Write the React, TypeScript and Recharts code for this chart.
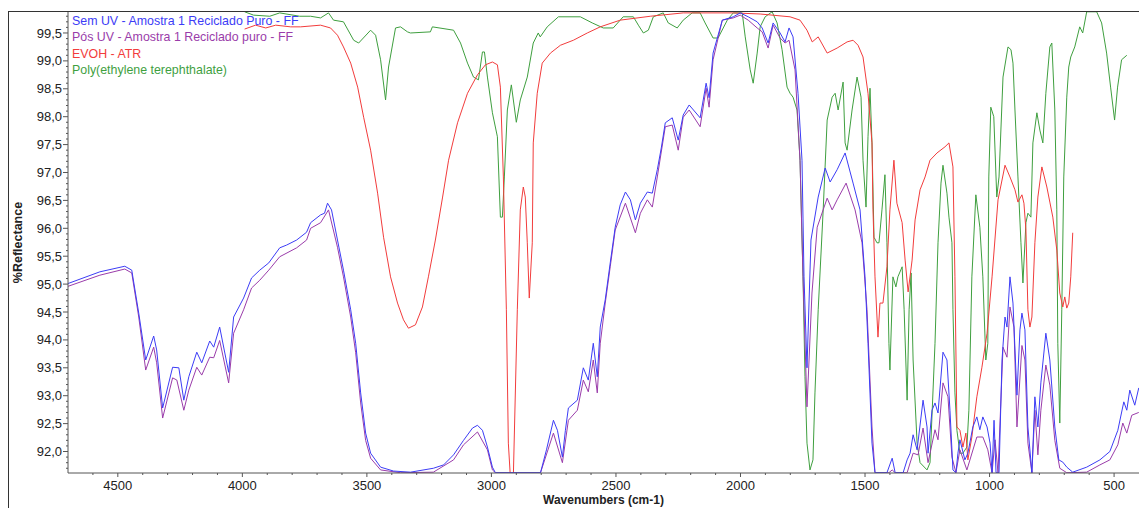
import React from 'react';
import { LineChart, Line, XAxis, YAxis, Legend } from 'recharts';

// [wavenumber cm-1, %Reflectance]
const semUV: [number, number][] = [
  [4700, 95.01], [4572, 95.22], [4472, 95.32], [4444, 95.25], [4416, 94.48], [4388, 93.64],
  [4356, 94.07], [4344, 93.82], [4320, 92.78], [4280, 93.51], [4255, 93.5], [4235, 92.92],
  [4215, 93.34], [4183, 93.78], [4163, 93.59], [4131, 93.98], [4115, 93.87], [4091, 94.23],
  [4055, 93.42], [4035, 94.41], [3995, 94.75], [3963, 95.11], [3930, 95.25], [3894, 95.38],
  [3850, 95.65], [3822, 95.7], [3782, 95.79], [3742, 95.93], [3726, 96.1], [3686, 96.24],
  [3670, 96.27], [3658, 96.45], [3642, 96.33], [3618, 95.79], [3594, 95.25], [3565, 94.54],
  [3545, 93.94], [3525, 93.05], [3505, 92.33], [3485, 91.97], [3445, 91.72], [3393, 91.65],
  [3325, 91.63], [3233, 91.7], [3192, 91.76], [3152, 91.94], [3112, 92.2], [3076, 92.42],
  [3056, 92.47], [3036, 92.38], [3016, 92.08], [2996, 91.72], [2984, 91.62], [2803, 91.62],
  [2779, 92.03], [2751, 92.56], [2735, 92.38], [2715, 91.9], [2703, 92.38], [2691, 92.78],
  [2655, 92.92], [2631, 93.5], [2611, 93.28], [2591, 93.94], [2575, 93.34], [2563, 94.23],
  [2543, 94.72], [2523, 95.38], [2503, 96.02], [2483, 96.42], [2462, 96.65], [2442, 96.51],
  [2422, 96.15], [2402, 96.45], [2374, 96.65], [2354, 96.63], [2334, 97.05], [2318, 97.44],
  [2302, 97.89], [2274, 97.98], [2250, 97.58], [2230, 98.03], [2206, 98.21], [2162, 97.98],
  [2138, 98.6], [2126, 98.34], [2110, 99.14], [2073, 99.73], [2029, 99.79], [2001, 99.86],
  [1969, 99.79], [1933, 99.7], [1913, 99.59], [1889, 99.32], [1869, 99.68], [1841, 99.5],
  [1821, 99.34], [1805, 99.59], [1789, 99.43], [1769, 98.42], [1753, 97.22], [1745, 95.13],
  [1733, 93.5], [1717, 95.79], [1688, 96.56], [1660, 97.08], [1640, 96.83], [1612, 97.05],
  [1580, 97.35], [1548, 96.81], [1520, 96.33], [1500, 95.13], [1488, 93.94], [1472, 92.15],
  [1460, 91.62], [1412, 91.62], [1391, 91.88], [1379, 91.62], [1347, 91.62], [1331, 91.85],
  [1319, 91.97], [1307, 92.3], [1291, 92.03], [1267, 92.92], [1251, 92.44], [1247, 91.97],
  [1231, 92.74], [1219, 92.87], [1207, 92.69], [1187, 93.78], [1171, 93.64], [1159, 92.74],
  [1147, 91.67], [1135, 91.62], [1127, 91.97], [1119, 92.21], [1099, 91.85], [1087, 91.97],
  [1067, 92.44], [1051, 92.62], [1039, 92.39], [1027, 92.62], [1010, 92.44], [998, 92.15],
  [990, 91.62], [982, 92.56], [974, 91.62], [962, 91.62], [950, 93.64], [938, 94.41],
  [930, 94.23], [918, 95.13], [906, 94.66], [890, 93.01], [878, 94.18], [870, 94.48],
  [858, 94.18], [846, 92.44], [830, 91.62], [818, 92.98], [806, 92.44], [794, 93.23],
  [774, 94.12], [758, 93.64], [738, 92.44], [722, 91.85], [706, 91.81], [690, 91.72],
  [666, 91.63], [610, 91.72], [557, 91.85], [517, 92.0], [485, 92.38], [461, 92.89],
  [449, 92.74], [437, 93.1], [417, 92.83], [401, 93.14],
];

const posUV: [number, number][] = [
  [4700, 94.96], [4572, 95.16], [4472, 95.27], [4444, 95.2], [4416, 94.41], [4388, 93.46],
  [4356, 93.87], [4344, 93.59], [4320, 92.6], [4280, 93.32], [4263, 93.28], [4235, 92.74],
  [4215, 93.1], [4183, 93.51], [4163, 93.37], [4131, 93.69], [4115, 93.68], [4091, 93.99],
  [4055, 93.23], [4035, 94.12], [3995, 94.54], [3963, 94.93], [3930, 95.07], [3894, 95.25],
  [3850, 95.49], [3782, 95.65], [3742, 95.79], [3726, 96.0], [3686, 96.1], [3654, 96.33],
  [3618, 95.66], [3594, 95.13], [3565, 94.41], [3545, 93.77], [3525, 92.87], [3505, 92.2],
  [3485, 91.88], [3445, 91.67], [3365, 91.62], [3233, 91.63], [3152, 91.85], [3112, 92.12],
  [3056, 92.35], [3016, 92.03], [2996, 91.67], [2984, 91.62], [2803, 91.62], [2751, 92.33],
  [2715, 91.8], [2691, 92.56], [2655, 92.74], [2631, 93.28], [2611, 93.07], [2591, 93.64],
  [2575, 93.05], [2563, 93.94], [2543, 94.66], [2523, 95.31], [2503, 95.97], [2462, 96.45],
  [2422, 95.92], [2402, 96.27], [2374, 96.51], [2354, 96.38], [2334, 96.92], [2302, 97.82],
  [2274, 97.85], [2250, 97.4], [2230, 97.99], [2206, 98.12], [2162, 97.82], [2138, 98.51],
  [2126, 98.17], [2110, 99.02], [2073, 99.73], [2029, 99.77], [2001, 99.82], [1969, 99.73],
  [1933, 99.59], [1913, 99.52], [1889, 99.23], [1869, 99.64], [1841, 99.41], [1821, 99.32],
  [1805, 99.37], [1781, 98.84], [1761, 97.22], [1749, 95.13], [1733, 92.8], [1713, 94.84],
  [1692, 96.02], [1652, 96.54], [1632, 96.33], [1612, 96.51], [1576, 96.81], [1540, 96.33],
  [1512, 95.74], [1492, 94.54], [1472, 92.44], [1460, 91.62], [1404, 91.62], [1391, 91.67],
  [1379, 91.62], [1331, 91.62], [1307, 91.97], [1287, 91.94], [1267, 92.42], [1247, 91.8],
  [1219, 92.39], [1207, 92.21], [1187, 93.23], [1167, 92.98], [1151, 91.9], [1135, 91.62],
  [1119, 92.03], [1091, 91.67], [1051, 92.26], [1027, 92.26], [1007, 92.03], [990, 91.62],
  [978, 92.21], [966, 91.62], [946, 93.87], [930, 93.69], [918, 94.59], [902, 94.23],
  [890, 92.44], [870, 93.9], [858, 93.64], [846, 92.15], [830, 91.62], [818, 92.74],
  [806, 91.94], [794, 92.74], [774, 93.55], [758, 93.19], [738, 92.2], [718, 91.7],
  [690, 91.62], [610, 91.63], [557, 91.76], [517, 91.85], [485, 92.12], [465, 92.51],
  [449, 92.33], [429, 92.65], [401, 92.7],
];

const evoh: [number, number][] = [
  [3991, 99.57], [3947, 99.64], [3906, 99.59], [3866, 99.64], [3806, 99.61], [3766, 99.61],
  [3686, 99.64], [3646, 99.59], [3618, 99.46], [3594, 99.25], [3565, 98.96], [3537, 98.53],
  [3513, 97.99], [3485, 97.4], [3457, 96.63], [3433, 95.84], [3405, 95.13], [3377, 94.66],
  [3353, 94.36], [3333, 94.21], [3305, 94.27], [3277, 94.59], [3253, 95.13], [3225, 95.79],
  [3196, 96.56], [3172, 97.22], [3136, 97.89], [3096, 98.42], [3056, 98.75], [3024, 98.93],
  [2996, 98.98], [2976, 98.93], [2964, 98.53], [2952, 96.92], [2940, 94.54], [2932, 92.15],
  [2924, 91.55], [2912, 91.55], [2896, 94.54], [2884, 96.33], [2872, 96.74], [2864, 96.56],
  [2856, 95.74], [2848, 94.75], [2836, 95.74], [2832, 97.53], [2816, 98.42], [2796, 98.96],
  [2763, 99.14], [2723, 99.28], [2671, 99.37], [2615, 99.5], [2563, 99.61], [2483, 99.73],
  [2362, 99.8], [2230, 99.86], [2029, 99.86], [1921, 99.84], [1801, 99.79], [1761, 99.73],
  [1733, 99.55], [1712, 99.34], [1688, 99.43], [1652, 99.14], [1612, 99.23], [1572, 99.34],
  [1548, 99.37], [1528, 99.28], [1508, 99.07], [1488, 98.42], [1472, 97.53], [1468, 96.33],
  [1460, 95.13], [1448, 94.05], [1440, 94.66], [1428, 94.66], [1412, 95.31], [1400, 96.33],
  [1384, 97.22], [1372, 96.45], [1351, 96.1], [1339, 95.43], [1327, 94.86], [1311, 95.43],
  [1299, 96.15], [1279, 96.69], [1259, 96.92], [1239, 97.22], [1211, 97.35], [1179, 97.46],
  [1163, 97.53], [1147, 97.1], [1139, 95.13], [1131, 92.44], [1119, 92.38], [1107, 92.08],
  [1095, 92.33], [1087, 91.85], [1071, 92.26], [1051, 92.98], [1031, 93.5], [1010, 94.12],
  [990, 95.13], [966, 96.51], [938, 97.13], [918, 96.92], [898, 96.69], [886, 96.47],
  [870, 96.6], [862, 96.45], [854, 95.97], [846, 94.54], [838, 94.23], [830, 94.41],
  [818, 95.74], [806, 96.56], [790, 97.1], [770, 96.74], [758, 96.47], [746, 96.2],
  [730, 95.61], [718, 94.84], [706, 94.59], [698, 94.77], [690, 94.57], [682, 94.66],
  [674, 95.13], [666, 95.92],
];

const pet: [number, number][] = [
  [3991, 99.88], [3955, 99.82], [3890, 99.8], [3850, 99.86], [3770, 99.8], [3726, 99.8],
  [3686, 99.77], [3654, 99.86], [3634, 99.73], [3594, 99.7], [3553, 99.37], [3533, 99.32],
  [3485, 99.55], [3465, 99.46], [3445, 99.02], [3425, 98.3], [3413, 98.89], [3385, 99.59],
  [3365, 99.61], [3337, 99.52], [3325, 99.5], [3245, 99.52], [3237, 99.61], [3152, 99.55],
  [3124, 99.32], [3096, 98.96], [3072, 98.71], [3052, 98.66], [3036, 99.16], [3028, 99.16],
  [3016, 98.71], [2996, 98.07], [2976, 97.64], [2964, 96.2], [2956, 96.2], [2948, 96.92],
  [2936, 98.12], [2920, 98.57], [2900, 97.9], [2884, 98.3], [2856, 98.71], [2832, 99.32],
  [2812, 99.5], [2804, 99.43], [2776, 99.61], [2731, 99.79], [2643, 99.79], [2595, 99.68],
  [2551, 99.59], [2511, 99.59], [2471, 99.79], [2430, 99.79], [2410, 99.64], [2390, 99.5],
  [2370, 99.55], [2350, 99.79], [2310, 99.86], [2290, 99.68], [2254, 99.59], [2230, 99.73],
  [2194, 99.86], [2162, 99.86], [2142, 99.68], [2110, 99.41], [2090, 99.41], [2053, 99.73],
  [2029, 99.86], [1993, 99.86], [1981, 99.43], [1961, 98.84], [1949, 98.6], [1933, 99.14],
  [1921, 99.61], [1901, 99.79], [1873, 99.88], [1853, 99.68], [1833, 99.2], [1813, 98.53],
  [1801, 98.42], [1789, 98.35], [1773, 98.12], [1761, 97.22], [1749, 95.13], [1741, 93.34],
  [1733, 92.15], [1721, 91.67], [1709, 91.85], [1701, 93.05], [1688, 94.54], [1668, 96.33],
  [1652, 97.94], [1632, 98.35], [1620, 98.42], [1608, 98.12], [1588, 98.62], [1580, 97.53],
  [1572, 97.4], [1552, 98.12], [1532, 98.71], [1516, 98.35], [1508, 97.22], [1496, 96.38],
  [1488, 97.64], [1480, 98.51], [1472, 97.53], [1464, 95.84], [1452, 95.74], [1444, 95.74],
  [1432, 96.33], [1420, 96.96], [1412, 95.74], [1404, 93.94], [1400, 93.46], [1388, 95.13],
  [1376, 94.95], [1368, 95.13], [1351, 95.31], [1343, 94.54], [1331, 92.92], [1323, 94.54],
  [1315, 95.2], [1307, 93.64], [1291, 92.15], [1279, 91.8], [1251, 91.67], [1239, 91.8],
  [1219, 93.94], [1207, 95.74], [1195, 96.81], [1187, 97.13], [1171, 96.63], [1163, 96.2],
  [1151, 95.74], [1147, 94.54], [1139, 93.05], [1131, 92.38], [1119, 91.97], [1107, 91.97],
  [1091, 92.08], [1083, 92.74], [1071, 95.13], [1055, 96.6], [1039, 96.02], [1027, 95.13],
  [1015, 93.64], [1007, 93.94], [1003, 96.92], [995, 98.17], [983, 98.0], [971, 96.56],
  [962, 96.92], [946, 98.71], [926, 99.25], [914, 99.2], [906, 98.96], [898, 98.12],
  [886, 96.92], [874, 95.74], [866, 95.02], [854, 96.1], [846, 96.27], [834, 96.2],
  [826, 97.53], [810, 98.07], [798, 97.76], [786, 97.53], [774, 98.42], [758, 99.25],
  [750, 99.32], [738, 98.12], [730, 96.33], [726, 93.94], [718, 92.51], [710, 94.54],
  [702, 96.92], [690, 98.35], [682, 98.89], [674, 99.07], [658, 99.25], [638, 99.61],
  [626, 99.5], [610, 99.88], [570, 99.88], [550, 99.68], [530, 99.14], [514, 98.53],
  [498, 97.94], [486, 98.53], [470, 99.02], [449, 99.1],
];

const xMajor = [500, 1000, 1500, 2000, 2500, 3000, 3500, 4000, 4500];
const yMajor = [92, 92.5, 93, 93.5, 94, 94.5, 95, 95.5, 96, 96.5, 97, 97.5, 98, 98.5, 99, 99.5];
// minor ticks: every 100 cm-1 and every 0.1 %
const xTicks = Array.from({ length: 42 }, (_, i) => 500 + i * 100);
const yTicks = Array.from({ length: 82 }, (_, i) => Math.round((91.7 + i * 0.1) * 10) / 10);

const FONT = '"Liberation Sans", Arial, sans-serif';
const AXIS = '#555';
const TXT = '#222';

const series = [
  { name: 'Sem UV - Amostra 1 Reciclado Puro - FF', color: '#3c3cf6', data: semUV },
  { name: 'Pós UV - Amostra 1 Reciclado puro - FF', color: '#9a3caa', data: posUV },
  { name: 'EVOH - ATR', color: '#f23c3c', data: evoh },
  { name: 'Poly(ethylene terephthalate)', color: '#3f9f3f', data: pet },
];

const toRows = (pts: [number, number][]) => pts.map(([w, v]) => ({ w, v }));

const XTick = (props: any) => {
  const { x, y, payload } = props;
  const major = xMajor.includes(payload.value);
  const ay = y - 6;
  return (
    <g>
      <line x1={x} x2={x} y1={ay} y2={ay + (major ? 4 : 2)} stroke={AXIS} />
      {major && (
        <text x={x} y={ay + 17} textAnchor="middle" fill={TXT} fontSize={13} fontFamily={FONT}>
          {payload.value}
        </text>
      )}
    </g>
  );
};

const YTick = (props: any) => {
  const { x, y, payload } = props;
  const v = payload.value;
  const major = yMajor.some((m) => Math.abs(m - v) < 1e-6);
  const ax = x + 6;
  return (
    <g>
      <line x1={ax - (major ? 5 : 2)} x2={ax} y1={y} y2={y} stroke={AXIS} />
      {major && (
        <text x={ax - 6} y={y} dy="0.35em" textAnchor="end" fill={TXT} fontSize={13} fontFamily={FONT}>
          {v.toFixed(1).replace('.', ',')}
        </text>
      )}
    </g>
  );
};

const renderLegend = () => (
  <div style={{ fontSize: 12.4, lineHeight: '16.4px', fontFamily: FONT }}>
    {series.map((s) => (
      <div key={s.name} style={{ color: s.color, whiteSpace: 'nowrap' }}>
        {s.name}
      </div>
    ))}
  </div>
);

export default function App() {
  const drawOrder = [series[3], series[2], series[1], series[0]];
  return (
    <div
      style={{
        position: 'absolute',
        left: 8,
        top: 11,
        width: 1130,
        height: 496,
        borderTop: '1px solid #333',
        borderLeft: '1px solid #333',
        overflow: 'hidden',
        background: '#fff',
        fontFamily: FONT,
      }}
    >
      <LineChart width={1130} height={496} margin={{ top: 0, right: 0, bottom: 0, left: 0 }}>
        <XAxis
          type="number"
          dataKey="w"
          domain={[400, 4700]}
          reversed
          allowDataOverflow
          ticks={xTicks}
          interval={0}
          tick={(p: any) => <XTick {...p} />}
          tickLine={false}
          tickSize={4}
          tickMargin={2}
          axisLine={{ stroke: AXIS }}
          height={35}
          label={{
            value: 'Wavenumbers (cm-1)',
            position: 'insideBottom',
            offset: 4,
            fill: TXT,
            fontSize: 12,
            fontWeight: 'bold',
          }}
        />
        <YAxis
          type="number"
          dataKey="v"
          domain={[91.615, 99.876]}
          allowDataOverflow
          ticks={yTicks}
          interval={0}
          tick={(p: any) => <YTick {...p} />}
          tickLine={false}
          tickSize={5}
          tickMargin={1}
          axisLine={{ stroke: AXIS }}
          width={59}
          label={{
            value: '%Reflectance',
            angle: -90,
            position: 'insideLeft',
            offset: 9,
            fill: TXT,
            fontSize: 12.5,
            fontWeight: 'bold',
            style: { textAnchor: 'middle' },
          }}
        />
        <Legend
          layout="vertical"
          align="center"
          verticalAlign="middle"
          content={renderLegend}
          wrapperStyle={{ left: 63, top: 1, width: 'auto' }}
        />
        {drawOrder.map((s) => (
          <Line
            key={s.name}
            data={toRows(s.data)}
            dataKey="v"
            name={s.name}
            type="linear"
            stroke={s.color}
            strokeWidth={1}
            dot={false}
            activeDot={false}
            isAnimationActive={false}
          />
        ))}
      </LineChart>
    </div>
  );
}
